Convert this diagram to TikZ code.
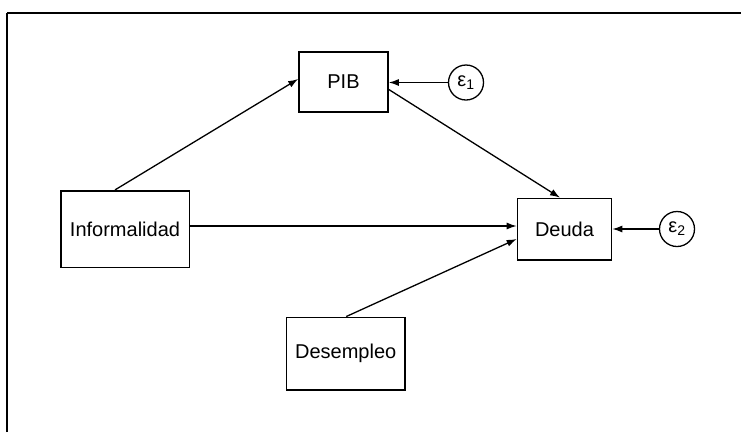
\documentclass[tikz,border=0pt]{standalone}
\usepackage{fontspec}
\setmainfont{Liberation Sans}
\usetikzlibrary{arrows.meta,calc}
\begin{document}
\begin{tikzpicture}[x=1pt,y=-1pt,
  var/.style={draw=black,line width=1.6pt,inner sep=0pt,font=\fontsize{20}{24}\selectfont},
  err/.style={draw=black,line width=1.3pt,circle,minimum size=35pt,inner sep=0pt,font=\fontsize{20}{24}\selectfont},
  path/.style={line width=1.3pt,-{Latex[length=10pt,width=7pt]}}]
\useasboundingbox (0,0) rectangle (741,432);
\draw[line width=1.2pt,black] (7,432) -- (7,13);
\draw[line width=1.2pt,black] (7,13) -- (741,13);
\node[var,minimum width=89pt,minimum height=59.5pt] (pib) at (343.5,82) {PIB};
\node[var,minimum width=94pt,minimum height=61.7pt] (deuda) at (564.5,229.3) {Deuda};
\node[var,minimum width=128.6pt,minimum height=76.6pt] (inf) at (125,229) {Informalidad};
\node[var,minimum width=118.6pt,minimum height=72.7pt] (des) at (345.7,353.7) {Desempleo};
\node[err] (e1) at (466,82.5) {ε\textsubscript{1}};
\node[err] (e2) at (677,229) {ε\textsubscript{2}};
\draw[path] ($(inf.north)+(-10,0)$) -- ($(pib.west)+(0,-3)$);
\draw[path] ($(pib.east)+(0,7.5)$) -- ($(deuda.north)+(-4.5,0)$);
\draw[path] ($(inf.east)+(0,-3)$) -- ($(deuda.west)+(0,-3.3)$);
\draw[path] ($(des.north)+(0.5,0)$) -- ($(deuda.west)+(0,9.7)$);
\draw[path] (e1.west) -- (e1.west -| pib.east);
\draw[path] (e2.west) -- (e2.west -| deuda.east);
\end{tikzpicture}
\end{document}
